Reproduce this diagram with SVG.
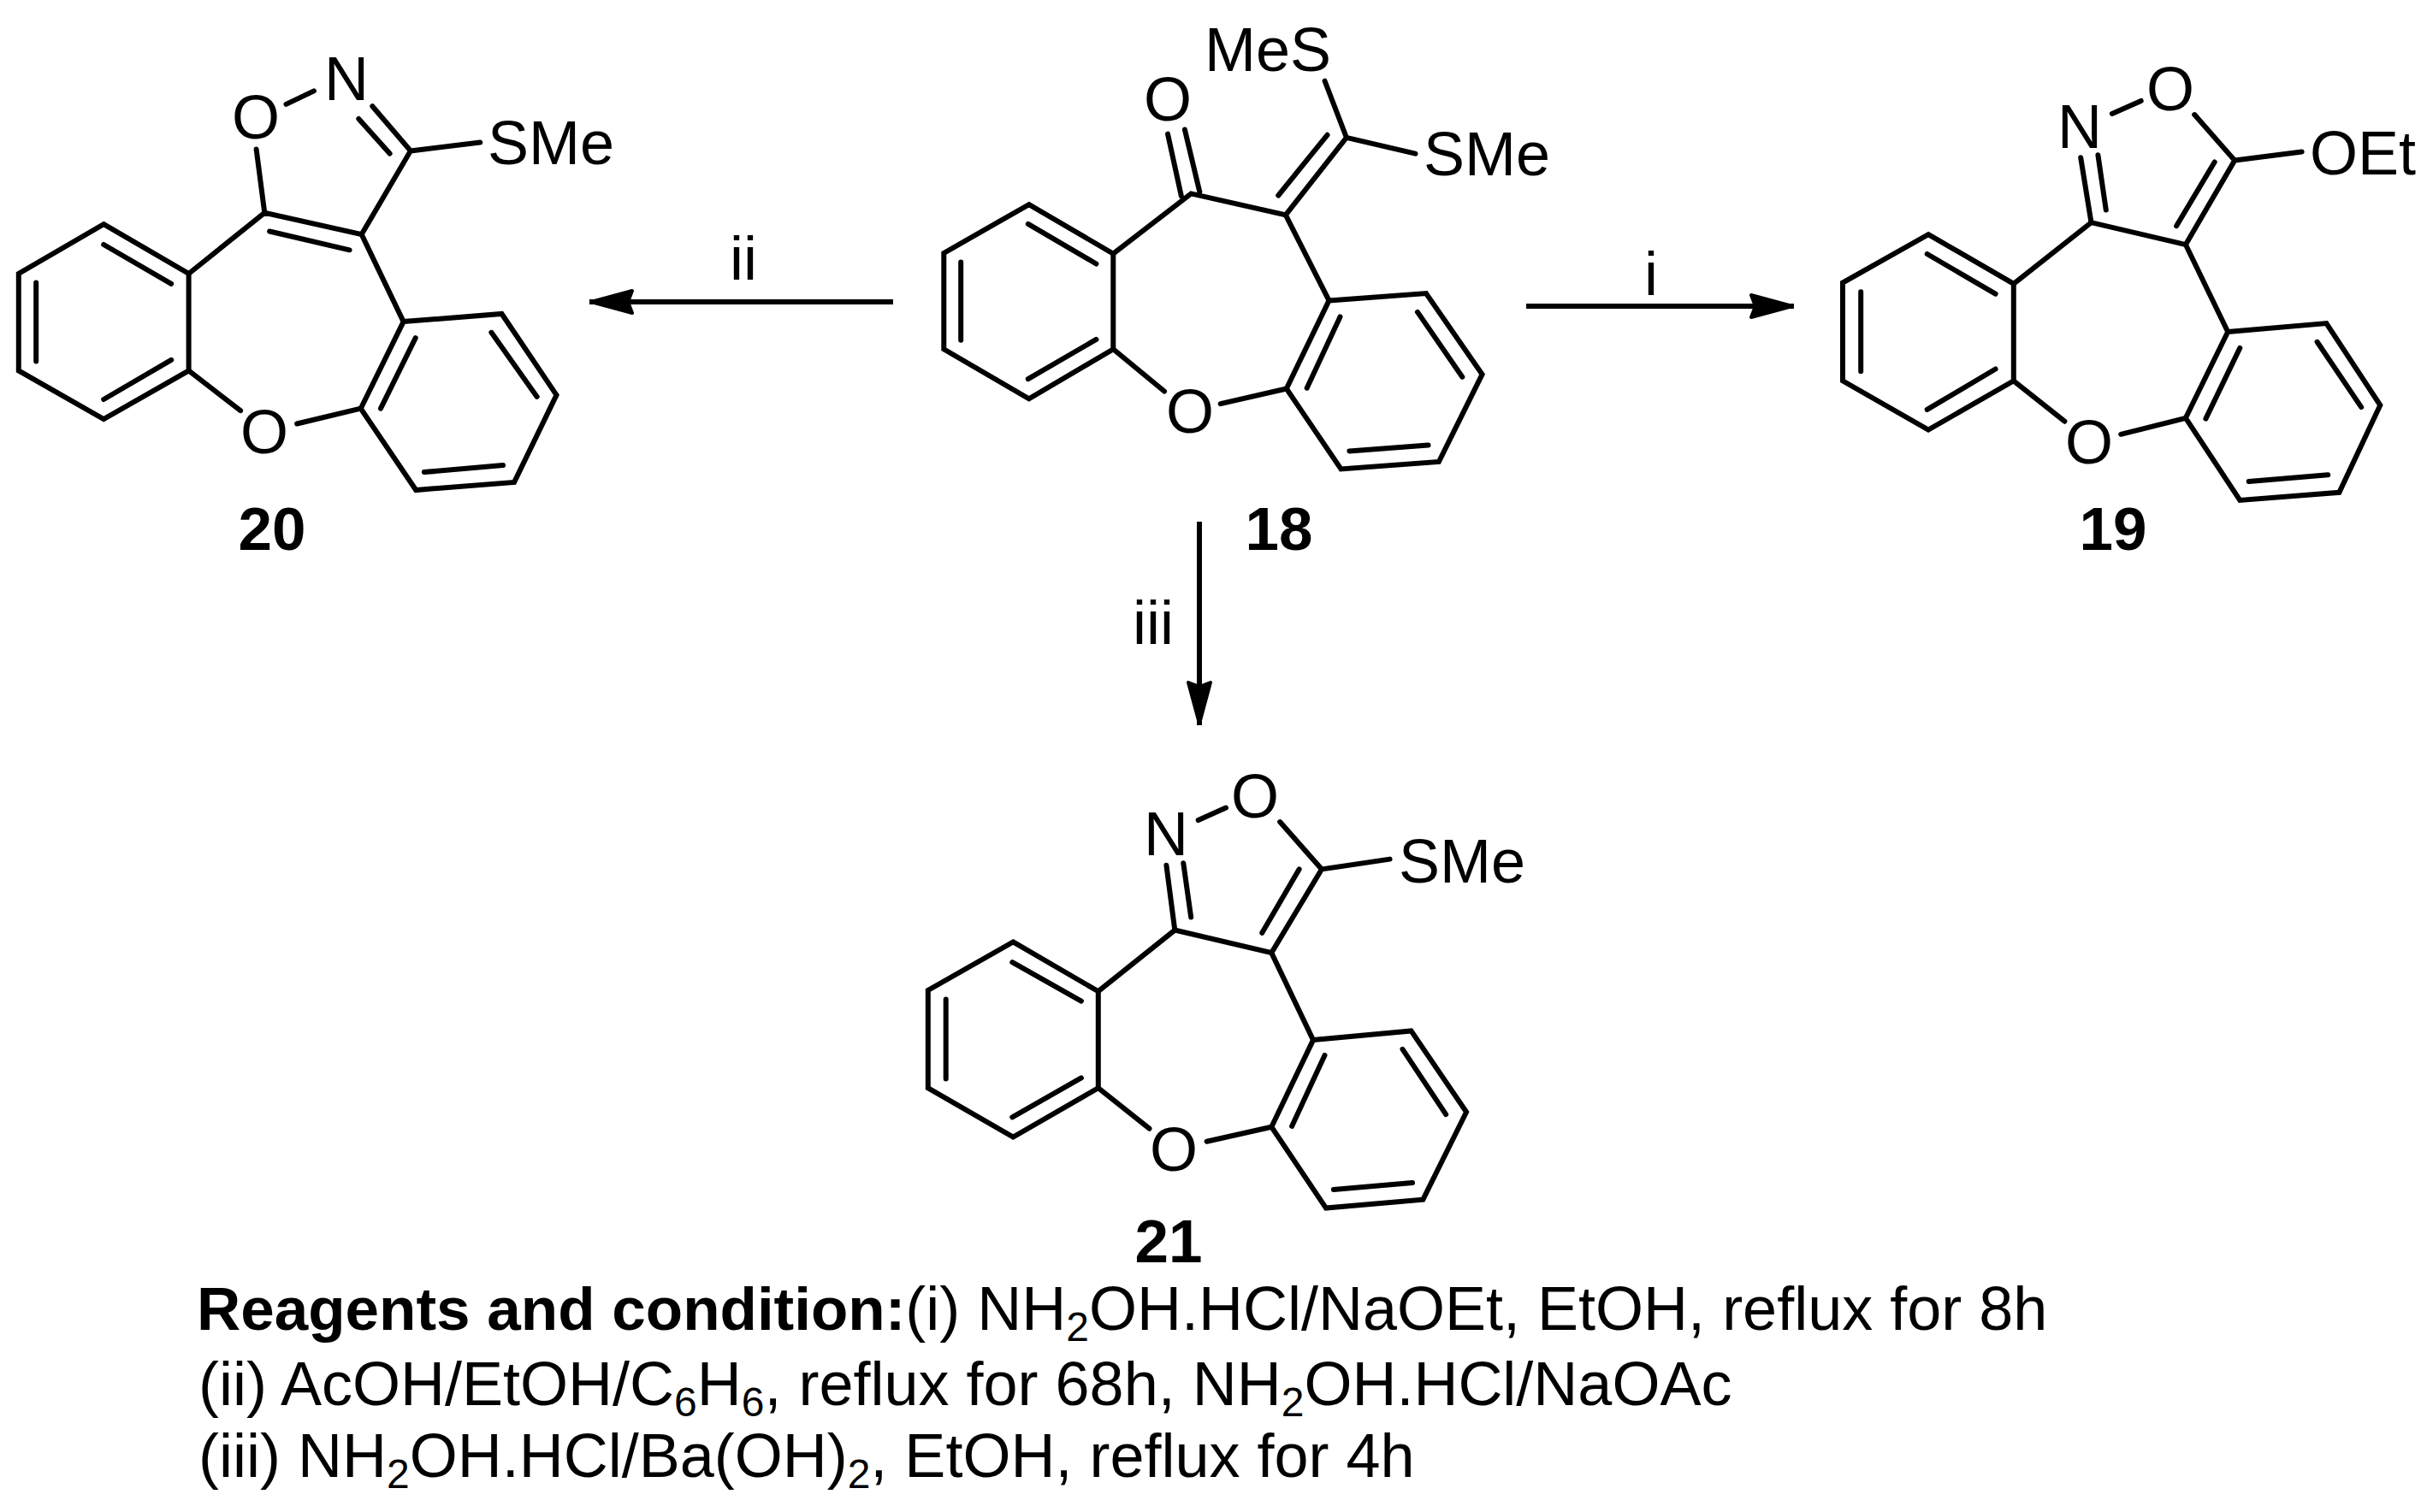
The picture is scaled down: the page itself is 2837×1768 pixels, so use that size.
<svg xmlns="http://www.w3.org/2000/svg" width="2837" height="1768" viewBox="0 0 2837 1768">
<style>
.bg{fill:#fff}
.b{fill:none;stroke:#000;stroke-width:6;stroke-linecap:round;stroke-linejoin:miter}
.t{font-family:"Liberation Sans",Arial,sans-serif;font-size:72px;fill:#000}
.m{text-anchor:middle}
.n{font-weight:bold;font-size:71px}
.s{font-size:48px}
.a{fill:none;stroke:#000;stroke-width:6;marker-end:url(#ah)}
</style>
<defs>
<marker id="ah" markerUnits="userSpaceOnUse" markerWidth="60" markerHeight="40" refX="54" refY="20" orient="auto">
<path d="M52 20L4 7L9 20L4 33Z" fill="#000" stroke="#000" stroke-width="4" stroke-linejoin="round"/>
</marker>
</defs>
<rect class="bg" width="2837" height="1768"/>
<g id="connectors">
<path class="a" d="M1044 353H689"/>
<path class="a" d="M1784 358H2097"/>
<path class="a" d="M1402 610V848"/>
</g>
<g id="compound-20">
<path class="b" d="M121.2 262.2L220.6 320V433.4L121.2 490L21.8 433.4V320ZM121.2 286L200.2 331.8M42.2 330.6V422.4M121.2 467L200.2 420.8"/>
<path class="b" d="M220.6 320L309.3 248.8L422.7 274.1L471.6 376.1M220.6 433.4L281.1 480.1M347.1 495.5L421.7 477.7M315.1 270.5L408.6 292.3"/>
<path class="b" d="M471.6 376.1L586.5 367L650.5 461.9L601.1 563.9L486.2 573L421.7 477.7ZM574.4 388.8L627.7 463.9M588 544.1L495.9 552.1M445 477.7L485.7 395.1"/>
<path class="b" d="M309.3 248.8L299.6 174.4M334.5 121.9L366.9 106.4M435.3 124.2L479.9 176.4L422.7 274.1M419.3 138.9L455.6 179.6M479.9 176.4L561.3 166.5"/>
<text class="t m" x="299" y="162">O</text><text class="t m" x="405" y="117">N</text><text class="t" x="570" y="192">SMe</text><text class="t m" x="309" y="530">O</text>
<text class="t m n" x="318" y="643">20</text>
</g>
<g id="compound-18">
<path class="b" d="M1202.8 239.1L1301.3 296.7V408.3L1202.8 466.3L1103.3 408.3V295.9ZM1201.8 261.8L1281.4 308.5M1123.2 306.4V397.7M1201.8 443.2L1281.4 396.9"/>
<path class="b" d="M1301.3 296.7L1392.3 226.4L1502.8 251.3L1553.5 351.4M1301.3 408.3L1361 457.5M1426.7 472.2L1503.8 454.5"/>
<path class="b" d="M1553.5 351.4L1667 343L1732.6 437.7L1681.9 540L1567.5 548.4L1503.8 454.5ZM1657 364.9L1709.3 440.7M1669.5 520.6L1577.4 527.4M1527.7 453.7L1566.5 370.4"/>
<path class="b" d="M1380.9 229.4L1365 156.6M1402.3 224.3L1384.9 151.5M1502.8 251.3L1573.9 160.8M1494.3 228.5L1551.5 157.8M1573.9 160.8L1548.6 94.7M1573.9 160.8L1654.5 179.7"/>
<text class="t m" x="1365" y="141">O</text><text class="t" x="1408" y="83">MeS</text><text class="t" x="1664" y="205">SMe</text><text class="t m" x="1391" y="506">O</text>
<text class="t m n" x="1495" y="643">18</text>
</g>
<g id="compound-19">
<path class="b" d="M2254.1 274.1L2353.8 331.8V445.3L2254.1 502.6L2154 445.3V330.6ZM2252.7 297L2332.6 343.7M2175.2 341.3V434.2M2252.7 478.9L2332.6 431.5"/>
<path class="b" d="M2353.8 331.8L2444.5 260.2L2554.9 286L2604.2 388M2353.8 445.3L2413.4 492.7M2479.2 507.8L2554.9 488.8"/>
<path class="b" d="M2604.2 388L2719.4 378.1L2782.3 473.8L2734.4 575.8L2618.3 584.9L2554.9 488.8ZM2708.6 399.8L2760.2 476.1M2721.2 555.2L2628.7 563.1M2578.4 489.6L2618.3 406.9"/>
<path class="b" d="M2444.5 260.2L2432.2 184.3M2452.4 181.2L2461.8 245.6M2468.9 132.9L2502.7 117.9M2565.2 134.1L2612.2 187.5L2554.9 286M2588.7 189.5L2544.1 264.2M2612.2 187.5L2690.7 177.6"/>
<text class="t m" x="2431" y="173">N</text><text class="t m" x="2537" y="129">O</text><text class="t" x="2700" y="204">OEt</text><text class="t m" x="2442" y="542">O</text>
<text class="t m n" x="2470" y="643">19</text>
</g>
<g id="compound-21">
<path class="b" d="M1184.3 1101.4L1283.8 1159.2V1272.2L1184.3 1329.6L1084.8 1272.2V1158ZM1183.3 1125.2L1263.9 1170.6M1105.7 1168.6V1261.6M1183.3 1306.3L1263.9 1260.4"/>
<path class="b" d="M1283.8 1159.2L1373.3 1087.6L1486.3 1114.1L1535 1216.1M1283.8 1272.2L1343.5 1319.7M1410.6 1334.7L1486.3 1317.7"/>
<path class="b" d="M1535 1216.1L1649.5 1205.4L1714.1 1300.3L1663.4 1402.7L1550 1412.6L1486.3 1317.7ZM1639.5 1226.8L1690.2 1303.1M1651 1383L1558.9 1390.9M1510.1 1316.9L1548.5 1233.9"/>
<path class="b" d="M1373.3 1087.6L1363.4 1011.7M1383.3 1009.3L1392.2 1072.6M1400.7 959.1L1433 944.5M1496.2 961.1L1545 1016.4L1486.3 1114.1M1518.6 1016.4L1475.3 1090.8M1545 1016.4L1624.6 1004.6"/>
<text class="t m" x="1363" y="1000">N</text><text class="t m" x="1467" y="956">O</text><text class="t" x="1635" y="1032">SMe</text><text class="t m" x="1372" y="1369">O</text>
<text class="t m n" x="1366" y="1476">21</text>
</g>
<g id="labels">
<text class="t m" x="869" y="327">ii</text>
<text class="t m" x="1930" y="345">i</text>
<text class="t m" x="1348" y="753">iii</text>
</g>
<g id="conditions">
<text class="t" x="230" y="1555"><tspan class="n">Reagents and condition:</tspan>(i) NH<tspan class="s" dy="13">2</tspan><tspan dy="-13">OH.HCl/NaOEt, EtOH, reflux for 8h</tspan></text>
<text class="t" x="232" y="1643">(ii) AcOH/EtOH/C<tspan class="s" dy="13">6</tspan><tspan dy="-13">H</tspan><tspan class="s" dy="13">6</tspan><tspan dy="-13">, reflux for 68h, NH</tspan><tspan class="s" dy="13">2</tspan><tspan dy="-13">OH.HCl/NaOAc</tspan></text>
<text class="t" x="232" y="1727">(iii) NH<tspan class="s" dy="13">2</tspan><tspan dy="-13">OH.HCl/Ba(OH)</tspan><tspan class="s" dy="13">2</tspan><tspan dy="-13">, EtOH, reflux for 4h</tspan></text>
</g>
</svg>
